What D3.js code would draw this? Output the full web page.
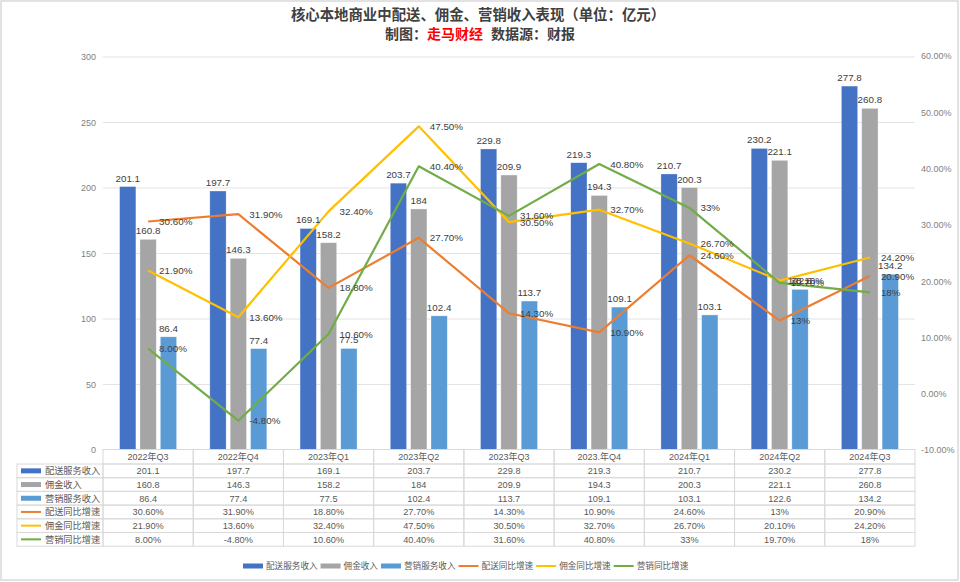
<!DOCTYPE html>
<html><head><meta charset="utf-8">
<script src="https://cdn.jsdelivr.net/npm/d3@7/dist/d3.min.js"></script>
<style>body{margin:0;background:#fff;}svg{display:block;font-family:"Liberation Sans","Noto Sans CJK SC",sans-serif;}</style>
</head><body><svg id="c" width="960" height="582"></svg>
<script>
const categories = ["2022年Q3","2022年Q4","2023年Q1","2023年Q2","2023年Q3","2023.年Q4","2024年Q1","2024年Q2","2024年Q3"];
const barNames = ["配送服务收入","佣金收入","营销服务收入"];
const lineNames = ["配送同比增速","佣金同比增速","营销同比增速"];
const delivery = [201.1,197.7,169.1,203.7,229.8,219.3,210.7,230.2,277.8];
const commission = [160.8,146.3,158.2,184,209.9,194.3,200.3,221.1,260.8];
const marketing = [86.4,77.4,77.5,102.4,113.7,109.1,103.1,122.6,134.2];
const deliveryYoY = [30.6,31.9,18.8,27.7,14.3,10.9,24.6,13,20.9];
const commissionYoY = [21.9,13.6,32.4,47.5,30.5,32.7,26.7,20.1,24.2];
const marketingYoY = [8.0,-4.8,10.6,40.4,31.6,40.8,33,19.7,18];
const deliveryYoYText = ["30.60%","31.90%","18.80%","27.70%","14.30%","10.90%","24.60%","13%","20.90%"];
const commissionYoYText = ["21.90%","13.60%","32.40%","47.50%","30.50%","32.70%","26.70%","20.10%","24.20%"];
const marketingYoYText = ["8.00%","-4.80%","10.60%","40.40%","31.60%","40.80%","33%","19.70%","18%"];
const leftTicks = [0,50,100,150,200,250,300];
const rightTicks = [-10,0,10,20,30,40,50,60];

const barColors = ["#4472C4","#A5A5A5","#5B9BD5"];
const lineColors = ["#ED7D31","#FFC000","#70AD47"];
const barSeries = [delivery, commission, marketing];
const lineSeries = [deliveryYoY, commissionYoY, marketingYoY];
const lineTexts = [deliveryYoYText, commissionYoYText, marketingYoYText];

const svg = d3.select("#c");
svg.append("rect").attr("x",1).attr("y",1).attr("width",957).attr("height",579)
  .attr("fill","#fff").attr("stroke","#d9d9d9").attr("stroke-width",1.5);

// Title
svg.append("text").attr("x",478).attr("y",20).attr("text-anchor","middle")
  .attr("font-size",14.4).attr("font-weight","bold").attr("fill","#404040")
  .text("核心本地商业中配送、佣金、营销收入表现（单位：亿元）");
const sub = svg.append("text").attr("x",480).attr("y",39).attr("text-anchor","middle")
  .attr("font-size",14).attr("font-weight","bold").attr("fill","#404040");
sub.append("tspan").text("制图：");
sub.append("tspan").attr("fill","#FF0000").text("走马财经");
sub.append("tspan").attr("xml:space","preserve").text("  数据源：财报");

const x = d3.scaleBand().domain(categories).range([103,915]);
const bw = x.bandwidth();
const xs = d3.scaleBand().domain([0,1,2]).range([bw/2-28.5, bw/2+28.5]).paddingInner(0.2);
const y = d3.scaleLinear().domain([0,300]).range([450,57]);
const y2 = d3.scaleLinear().domain([-10,60]).range([450,56]);

// gridlines
svg.append("g").selectAll("line").data(leftTicks.filter(t=>t>0)).join("line")
  .attr("x1",103).attr("x2",915).attr("y1",d=>y(d)).attr("y2",d=>y(d))
  .attr("stroke","#e3e3e3").attr("stroke-width",1);

// left axis
const la = svg.append("g").attr("transform","translate(103,0)")
  .call(d3.axisLeft(y).tickValues(leftTicks).tickSize(0).tickPadding(7));
la.select(".domain").remove();
la.selectAll("text").attr("font-size",9).attr("fill","#7f7f7f").attr("font-family","Liberation Sans");

// right axis
const ra = svg.append("g").attr("transform","translate(915,0)")
  .call(d3.axisRight(y2).tickValues(rightTicks).tickSize(0).tickPadding(6).tickFormat(d=>d.toFixed(2)+"%"));
ra.select(".domain").remove();
ra.selectAll("text").attr("font-size",9).attr("fill","#7f7f7f").attr("font-family","Liberation Sans");

// bars
barSeries.forEach((s,si)=>{
  const g = svg.append("g");
  g.selectAll("rect").data(s).join("rect")
    .attr("x",(d,i)=>x(categories[i])+xs(si)).attr("width",xs.bandwidth())
    .attr("y",d=>y(d)).attr("height",d=>y(0)-y(d))
    .attr("fill",barColors[si]).attr("stroke","#ffffff").attr("stroke-opacity",0.5).attr("stroke-width",0.6);
});
// lines
lineSeries.forEach((s,si)=>{
  const line = d3.line().x((d,i)=>x(categories[i])+bw/2).y(d=>y2(d));
  svg.append("path").datum(s).attr("d",line).attr("fill","none")
    .attr("stroke",lineColors[si]).attr("stroke-width",2.2).attr("stroke-linejoin","round");
});
// bar labels
barSeries.forEach((s,si)=>{
  svg.append("g").selectAll("text").data(s).join("text")
    .attr("x",(d,i)=>x(categories[i])+xs(si)+xs.bandwidth()/2).attr("y",d=>y(d)-5)
    .attr("text-anchor","middle").attr("font-size",9.8).attr("fill","#404040")
    .text(d=>String(d));
});
// line labels
lineSeries.forEach((s,si)=>{
  svg.append("g").selectAll("text").data(s).join("text")
    .attr("x",(d,i)=>x(categories[i])+bw/2+11).attr("y",d=>y2(d)+3.5)
    .attr("font-size",9.8).attr("fill","#404040")
    .text((d,i)=>lineTexts[si][i]);
});

// data table
const tTop = 449.5, hH = 14.5, rH = 13.7;
const tb = svg.append("g");
const border = "#d9d9d9";
// header cells
tb.selectAll("rect.h").data(categories).join("rect")
  .attr("x",d=>x(d)).attr("y",tTop).attr("width",bw).attr("height",hH)
  .attr("fill","none").attr("stroke",border);
tb.selectAll("text.h").data(categories).join("text")
  .attr("x",d=>x(d)+bw/2).attr("y",tTop+hH/2+3.3).attr("text-anchor","middle")
  .attr("font-size",9).attr("fill","#595959").text(d=>d);
const rows = [
  {name:barNames[0], vals:delivery.map(String), color:barColors[0], type:"bar"},
  {name:barNames[1], vals:commission.map(String), color:barColors[1], type:"bar"},
  {name:barNames[2], vals:marketing.map(String), color:barColors[2], type:"bar"},
  {name:lineNames[0], vals:deliveryYoYText, color:lineColors[0], type:"line"},
  {name:lineNames[1], vals:commissionYoYText, color:lineColors[1], type:"line"},
  {name:lineNames[2], vals:marketingYoYText, color:lineColors[2], type:"line"}
];
rows.forEach((r,ri)=>{
  const ry = tTop+hH+ri*rH;
  tb.append("rect").attr("x",17).attr("y",ry).attr("width",86).attr("height",rH)
    .attr("fill","none").attr("stroke",border);
  if(r.type==="bar"){
    tb.append("rect").attr("x",21).attr("y",ry+rH/2-2.5).attr("width",20).attr("height",5).attr("fill",r.color);
  } else {
    tb.append("line").attr("x1",21).attr("x2",41).attr("y1",ry+rH/2).attr("y2",ry+rH/2)
      .attr("stroke",r.color).attr("stroke-width",2);
  }
  tb.append("text").attr("x",45).attr("y",ry+rH/2+3.3).attr("font-size",9.2).attr("fill","#595959").text(r.name);
  categories.forEach((c,ci)=>{
    tb.append("rect").attr("x",x(c)).attr("y",ry).attr("width",bw).attr("height",rH)
      .attr("fill","none").attr("stroke",border);
    tb.append("text").attr("x",x(c)+bw/2).attr("y",ry+rH/2+3.3).attr("text-anchor","middle")
      .attr("font-size",9.2).attr("fill","#595959").text(r.vals[ci]);
  });
});

// bottom legend
const legItems = barNames.map((n,i)=>({n, c:barColors[i], t:"bar"})).concat(lineNames.map((n,i)=>({n,c:lineColors[i],t:"line"})));
const lg = svg.append("g");
let lx = 243; const ly = 566;
legItems.forEach(it=>{
  if(it.t==="bar") lg.append("rect").attr("x",lx).attr("y",ly-2.5).attr("width",20).attr("height",5).attr("fill",it.c);
  else lg.append("line").attr("x1",lx).attr("x2",lx+20).attr("y1",ly).attr("y2",ly).attr("stroke",it.c).attr("stroke-width",2);
  const t = lg.append("text").attr("x",lx+23).attr("y",ly+3.2).attr("font-size",8.6).attr("fill","#595959").text(it.n);
  lx += 23 + t.node().getComputedTextLength() + 3;
});
</script></body></html>
